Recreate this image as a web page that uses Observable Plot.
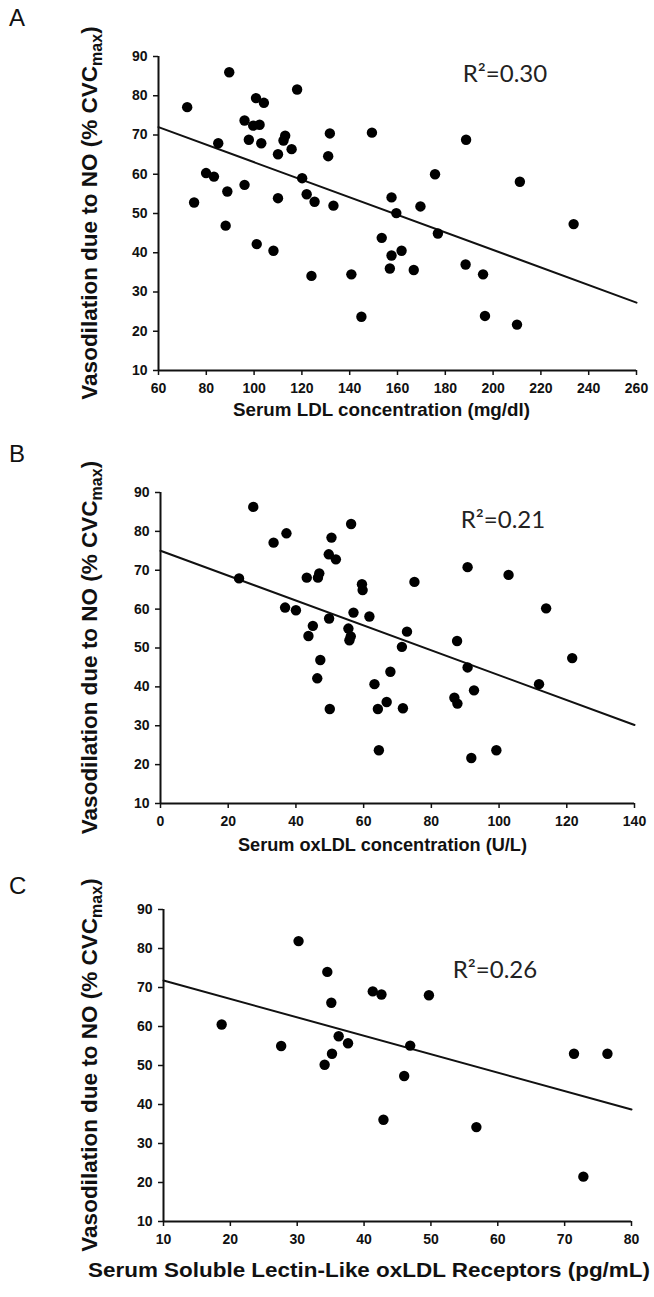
<!DOCTYPE html>
<html><head><meta charset="utf-8">
<script src="https://cdn.jsdelivr.net/npm/d3@7"></script>
<script src="https://cdn.jsdelivr.net/npm/@observablehq/plot@0.6"></script>
<style>
body{margin:0;background:#fff;}
#wrap{position:relative;width:654px;height:1297px;overflow:hidden;background:#fff;}
#wrap svg{position:absolute;left:0;}
.letter{position:absolute;left:9px;font-family:"Liberation Sans",Arial,sans-serif;font-size:24px;color:#111;line-height:1;}
</style></head><body><div id="wrap"></div>
<script>
// Panel A: serum LDL (mg/dl) vs NO-dependent vasodilation (%CVCmax)
const ldlX = [72,74.9,89.6,85,79.9,83.2,88.8,88.1,96,97.8,100.8,104.1,99.6,102.3,103,96,101.1,108.1,110,110,112.3,113,115.7,118,120.1,122,125.3,131.7,131,133.2,149.3,188.7,175.7,211.2,157.5,159.5,169.6,176.9,233.7,153.4,157.5,161.7,156.8,166.8,124,140.7,188.5,195.8,144.9,196.6,210];
const ldlY = [77.1,52.8,86,67.9,60.3,59.4,55.6,46.9,73.7,68.8,79.4,78.2,72.4,72.6,67.9,57.3,42.2,40.5,53.9,65.1,68.6,69.8,66.4,81.6,59,54.9,53,70.4,64.6,52,70.6,68.8,60,58.1,54.1,50.1,51.8,44.9,47.3,43.8,39.3,40.5,36,35.6,34.1,34.5,37,34.5,23.7,23.9,21.7];
const ldlFitX = [60,260];
const ldlFitY = [72,27.3];
const ldlTicks = [60,80,100,120,140,160,180,200,220,240,260];

// Panel B: serum oxLDL (U/L)
const oxX = [27.4,23.2,33.4,37.2,36.8,40,43.2,46.5,46.9,43.7,45,47.2,46.3,50,49.8,49.7,51.8,50.5,56.3,55.5,56.2,55.8,57,59.5,59.7,61.7,63.2,64.2,66.8,67.9,64.5,71.6,71.3,72.8,75,90.7,102.8,113.9,87.6,90.7,92.6,86.8,87.7,121.6,111.8,99.2,91.8];
const oxY = [86.3,67.9,77.1,79.5,60.4,59.7,68.1,68.1,69.2,53.1,55.7,46.9,42.2,34.3,57.6,74.1,72.8,78.4,81.9,55,53,52,59.1,66.4,64.9,58.1,40.7,34.3,36.1,43.9,23.7,34.5,50.3,54.2,67,70.8,68.8,60.2,51.8,45,39.1,37.2,35.7,47.4,40.7,23.7,21.7];
const oxFitX = [0,140];
const oxFitY = [75,30.2];
const oxTicks = [0,20,40,60,80,100,120,140];

// Panel C: serum soluble lectin-like oxLDL receptors (pg/mL)
const loxX = [18.7,27.6,30.2,34.5,35.1,34.1,35.2,36.2,37.6,41.3,42.6,42.9,46,46.9,49.7,56.8,71.4,72.8,76.4];
const loxY = [60.5,55,81.9,74,66.1,50.2,53,57.5,55.7,69,68.2,36.1,47.3,55.1,68,34.2,53,21.5,53];
const loxFitX = [10,80];
const loxFitY = [71.8,38.7];
const loxTicks = [10,20,30,40,50,60,70,80];

const yTicks = [10,20,30,40,50,60,70,80,90];
const panelLetters = ["A","B","C"];
const r2Labels = ["R²=0.30","R²=0.21","R²=0.26"];
const xTitles = ["Serum LDL concentration (mg/dl)","Serum oxLDL concentration (U/L)","Serum Soluble Lectin-Like oxLDL Receptors (pg/mL)"];
const yTitleMain = "Vasodilation due to NO (% CVC";
const yTitleSub = "max";

const FONT = '"Liberation Sans", Arial, Helvetica, sans-serif';
const wrap = document.getElementById("wrap");

const panels = [
  {xs: ldlX, ys: ldlY, fx: ldlFitX, fy: ldlFitY, ticks: ldlTicks, top: 0, left: 158, right: 636, plotH: 314, r2: [505, 82], xl: [233, 416, 297, 19], letterTop: 6},
  {xs: oxX, ys: oxY, fx: oxFitX, fy: oxFitY, ticks: oxTicks, top: 436, left: 160, right: 634, plotH: 311, r2: [503, 92], xl: [238, 415, 289, 19], letterTop: 442},
  {xs: loxX, ys: loxY, fx: loxFitX, fy: loxFitY, ticks: loxTicks, top: 853, left: 163, right: 631, plotH: 312, r2: [495, 125], xl: [88, 424, 562, 20], letterTop: 874}
];

panels.forEach((p, i) => {
  const H = 444;
  const pts = p.xs.map((x, j) => ({x, y: p.ys[j]}));
  const fit = p.fx.map((x, j) => ({x, y: p.fy[j]}));
  const dom = [p.ticks[0], p.ticks[p.ticks.length - 1]];
  const svg = Plot.plot({
    width: 654, height: H,
    marginTop: 56, marginBottom: H - 56 - p.plotH,
    marginLeft: p.left, marginRight: 654 - p.right,
    style: {fontFamily: FONT, background: "none", color: "#111", overflow: "visible"},
    x: {domain: dom, label: null},
    y: {domain: [10, 90], label: null},
    marks: [
      Plot.axisX({ticks: p.ticks, tickSize: 5, tickPadding: 8, fontSize: 14, fontWeight: "bold", label: null, strokeWidth: 1.5}),
      Plot.axisY({ticks: yTicks, tickSize: 5, tickPadding: 6, fontSize: 14, fontWeight: "bold", label: null, strokeWidth: 1.5}),
      Plot.ruleX([dom[0]], {stroke: "#111", strokeWidth: 2}),
      Plot.ruleY([10], {stroke: "#111", strokeWidth: 2}),
      Plot.line(fit, {x: "x", y: "y", stroke: "#111", strokeWidth: 2}),
      Plot.dot(pts, {x: "x", y: "y", r: 5.2, fill: "#000", stroke: "none"})
    ]
  });
  svg.style.top = p.top + "px";
  const s = d3.select(svg);
  // x title
  s.append("text").attr("x", p.xl[0]).attr("y", p.xl[1]).attr("text-anchor", "start")
    .attr("font-family", FONT).attr("font-weight", "bold").attr("font-size", p.xl[3]).attr("fill", "#111")
    .attr("textLength", p.xl[2]).attr("lengthAdjust", "spacingAndGlyphs")
    .text(xTitles[i]);
  // y title with subscript
  const cy = 56 + p.plotH / 2;
  const yt = s.append("text").attr("transform", `translate(97,${cy}) rotate(-90)`).attr("text-anchor", "middle")
    .attr("font-family", FONT).attr("font-weight", "bold").attr("font-size", 22.5).attr("fill", "#111");
  yt.append("tspan").text(yTitleMain);
  yt.append("tspan").attr("font-size", 16).attr("dy", 5).text(yTitleSub);
  yt.append("tspan").attr("dy", -5).text(")");
  // R² annotation
  s.append("text").attr("x", p.r2[0]).attr("y", p.r2[1]).attr("text-anchor", "middle")
    .attr("font-family", "Lato, 'Open Sans', sans-serif").attr("font-size", 24).attr("fill", "#222")
    .text(r2Labels[i]);
  wrap.appendChild(svg);
  const L = document.createElement("div");
  L.className = "letter";
  L.style.top = p.letterTop + "px";
  L.textContent = panelLetters[i];
  wrap.appendChild(L);
});
</script>
</body></html>
